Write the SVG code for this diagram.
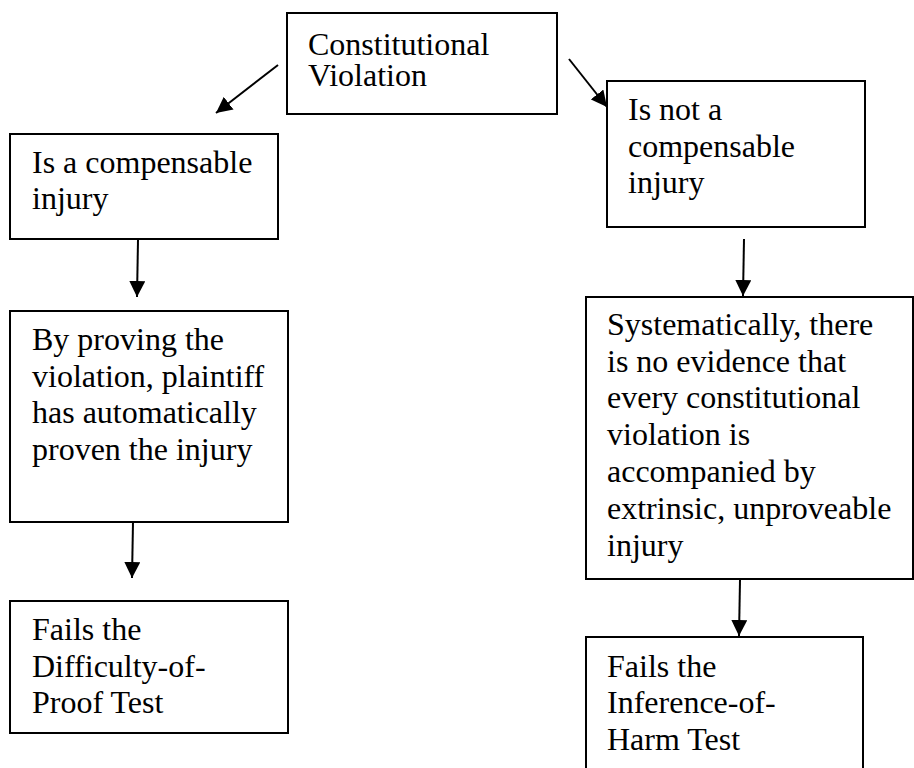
<svg xmlns="http://www.w3.org/2000/svg" width="914" height="768" viewBox="0 0 914 768">
<style>
.box{fill:#fff;stroke:#000;stroke-width:2}
.c{fill:none;stroke:#000;stroke-width:2}
</style>
<defs>
<marker id="ah" viewBox="0 0 16 16" refX="16" refY="8" markerWidth="16" markerHeight="16" markerUnits="userSpaceOnUse" orient="auto">
<path d="M0,0 L16,8 L0,16 z" fill="#000"/>
</marker>
</defs>
<rect width="914" height="768" fill="#fff"/>
<g font-family="Liberation Serif, Times New Roman, DejaVu Serif, serif" font-size="32" fill="#000">
<g id="n-violation">
<rect class="box" x="287" y="13" width="270" height="101"/>
<text x="308" y="55">Constitutional</text>
<text x="308" y="86">Violation</text>
</g>
<g id="n-compensable">
<rect class="box" x="10" y="134" width="268" height="105"/>
<text x="32" y="173">Is a compensable</text>
<text x="32" y="209">injury</text>
</g>
<g id="n-not-compensable">
<rect class="box" x="607" y="81" width="258" height="146"/>
<text x="628" y="120">Is not a</text>
<text x="628" y="157">compensable</text>
<text x="628" y="193">injury</text>
</g>
<g id="n-proving">
<rect class="box" x="10" y="311" width="278" height="211"/>
<text x="32" y="350">By proving the</text>
<text x="32" y="387">violation, plaintiff</text>
<text x="32" y="423">has automatically</text>
<text x="32" y="460">proven the injury</text>
</g>
<g id="n-systematically">
<rect class="box" x="586" y="297" width="327" height="282"/>
<text x="607" y="335">Systematically, there</text>
<text x="607" y="372">is no evidence that</text>
<text x="607" y="408">every constitutional</text>
<text x="607" y="445">violation is</text>
<text x="607" y="482">accompanied by</text>
<text x="607" y="519">extrinsic, unproveable</text>
<text x="607" y="556">injury</text>
</g>
<g id="n-difficulty">
<rect class="box" x="10" y="601" width="278" height="132"/>
<text x="32" y="640">Fails the</text>
<text x="32" y="677">Difficulty-of-</text>
<text x="32" y="713">Proof Test</text>
</g>
<g id="n-inference">
<rect class="box" x="586" y="637" width="277" height="150"/>
<text x="607" y="677">Fails the</text>
<text x="607" y="713">Inference-of-</text>
<text x="607" y="750">Harm Test</text>
</g>
</g>
<g id="connectors">
<line class="c" x1="278" y1="65" x2="216" y2="113" marker-end="url(#ah)"/>
<line class="c" x1="569" y1="59" x2="607" y2="107" marker-end="url(#ah)"/>
<line class="c" x1="138" y1="240" x2="137" y2="297" marker-end="url(#ah)"/>
<line class="c" x1="744" y1="239" x2="743" y2="296" marker-end="url(#ah)"/>
<line class="c" x1="133" y1="522" x2="132" y2="578" marker-end="url(#ah)"/>
<line class="c" x1="740" y1="580" x2="739" y2="636" marker-end="url(#ah)"/>
</g>
</svg>
